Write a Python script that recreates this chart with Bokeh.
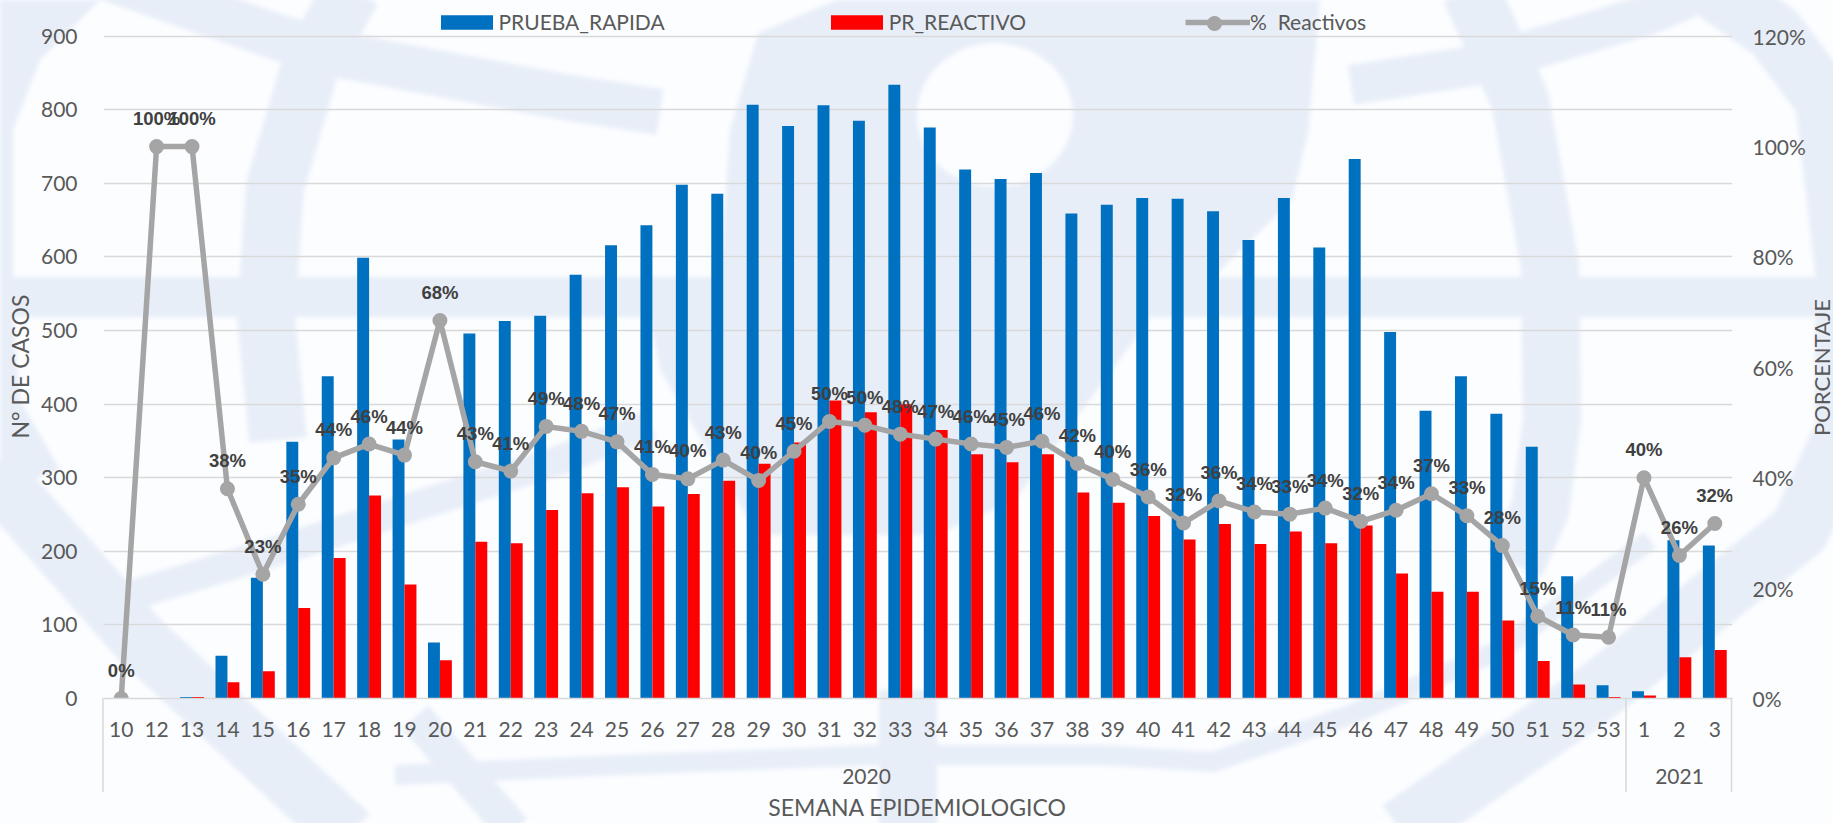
from bokeh.plotting import figure
from bokeh.embed import file_html
from bokeh.resources import INLINE
from bokeh.models import (ColumnDataSource, FactorRange, Range1d, LinearAxis, NumeralTickFormatter,
                          Legend, LegendItem, FixedTicker, PolyAnnotation, Label)
from bokeh.transform import dodge
from bokeh.core.properties import value
from urllib.parse import quote
import math

years = ["2020"] * 43 + ["2021"] * 3
weeks = ["10", "12", "13", "14", "15", "16", "17", "18", "19", "20", "21", "22", "23", "24", "25", "26",
         "27", "28", "29", "30", "31", "32", "33", "34", "35", "36", "37", "38", "39", "40", "41", "42",
         "43", "44", "45", "46", "47", "48", "49", "50", "51", "52", "53", "1", "2", "3"]
prueba_rapida = [0, 0, 2, 58, 164, 349, 438, 599, 352, 76, 496, 513, 520, 576, 616, 643,
                 698, 686, 807, 778, 806, 785, 834, 776, 719, 706, 714, 659, 671, 680, 679, 662,
                 623, 680, 613, 733, 498, 391, 438, 387, 342, 166, 18, 10, 215, 208]
pr_reactivo = [0, 0, 2, 22, 37, 123, 191, 276, 155, 52, 213, 211, 256, 279, 287, 261,
               278, 296, 319, 348, 405, 389, 400, 365, 332, 321, 332, 280, 266, 248, 216, 237,
               210, 227, 211, 235, 170, 145, 145, 106, 51, 19, 2, 4, 56, 66]
pct_reactivos = [0, 100, 100, 38.0, 22.5, 35.2, 43.6, 46.1, 44.1, 68.5, 42.9, 41.2, 49.3, 48.4, 46.5, 40.6,
                 39.8, 43.2, 39.5, 44.8, 50.2, 49.5, 47.9, 47.0, 46.1, 45.5, 46.6, 42.6, 39.7, 36.5, 31.8, 35.8,
                 33.8, 33.4, 34.5, 32.1, 34.1, 37.1, 33.1, 27.7, 14.9, 11.5, 11.1, 40.0, 25.9, 31.7]
pct_labels = ["0%", "100%", "100%", "38%", "23%", "35%", "44%", "46%", "44%", "68%", "43%", "41%", "49%", "48%", "47%", "41%",
              "40%", "43%", "40%", "45%", "50%", "50%", "48%", "47%", "46%", "45%", "46%", "42%", "40%", "36%", "32%", "36%",
              "34%", "33%", "34%", "32%", "34%", "37%", "33%", "28%", "15%", "11%", "11%", "40%", "26%", "32%"]

BLUE, RED, GREY = "#0070C0", "#FF0000", "#A5A5A5"
BG, WM = "#FBFDFF", "#E8EEF8"
TXT = "#595959"
FONT = "Lato"


# ---- faint emblem behind the chart (page background of the figure), in page pixels ----
def pts_str(pts):
    return " ".join(f"{a:.0f},{b:.0f}" for a, b in pts)


def wm_poly(pts, color=WM):
    return f"<polygon points='{pts_str(pts)}' fill='{color}'/>"


def wm_band(pts, w):
    return f"<polyline points='{pts_str(pts)}' fill='none' stroke='{WM}' stroke-width='{w}' stroke-linejoin='round'/>"


parts = [
    wm_poly([(0, 277), (1833, 277), (1833, 317), (0, 317)]),
    wm_poly([(0, 0), (100, 0), (40, 60), (13, 130), (13, 317), (20, 400), (60, 470), (0, 490)]),
    wm_band([(-10, 470), (140, 640), (350, 835)], 58),
    wm_band([(352, -10), (310, 67), (275, 187), (266, 317), (278, 440)], 58),
    wm_band([(100, -25), (280, 38), (340, 55), (570, 98), (660, 112)], 46),
    wm_band([(100, 605), (280, 550), (435, 500), (560, 460), (650, 425)], 30),
    wm_band([(415, 717), (514, 830)], 35),
    wm_band([(395, 775), (620, 765), (877, 755), (1100, 755), (1213, 762), (1350, 715), (1500, 650), (1650, 540)], 20),
    wm_band([(908, 690), (908, 830)], 58),
    wm_poly([(837, 0), (758, 33), (730, 130), (720, 277), (1213, 277), (1292, 200), (1308, 133), (1320, 0)]),
    wm_poly([(650, 317), (1150, 317), (1134, 340), (1015, 500), (936, 535), (758, 535), (660, 370)]),
    f"<ellipse cx='995' cy='115' rx='78' ry='72' fill='{BG}'/>",
    wm_band([(1470, -10), (1520, 100), (1550, 267), (1552, 420), (1540, 510), (1515, 565)], 58),
    wm_band([(1351, 85), (1480, 65), (1648, 15), (1707, -10)], 40),
    wm_band([(1700, -20), (1775, 33), (1825, 100), (1845, 270), (1845, 430), (1800, 530), (1600, 690), (1400, 830)], 60),
]
# bracket lines of the two-level category axis, below the axis
brackets = "".join(f"<line x1='{sx}' y1='698' x2='{sx}' y2='792' stroke='#D9D9D9' stroke-width='1.5'/>"
                   for sx in (103, 1626, 1731.5))
svg = ("<svg xmlns='http://www.w3.org/2000/svg' width='1833' height='823'>"
       f"<defs><filter id='b'><feGaussianBlur stdDeviation='2'/></filter></defs>"
       f"<rect width='1833' height='823' fill='{BG}'/><g filter='url(#b)'>" + "".join(parts) + "</g>" + brackets + "</svg>")

factors = list(zip(years, weeks))
src = ColumnDataSource(dict(x=factors, a=prueba_rapida, b=pr_reactivo,
                            p=[v / 100 for v in pct_reactivos], lab=pct_labels))

# the frame reaches up to the page top so that the legend can lie inside it, above the 900 line
FRAME_H, AXIS_H = 698, 662.3
p = figure(x_range=FactorRange(factors=factors, factor_padding=0, group_padding=0, range_padding=0),
           y_range=Range1d(0, 900 * FRAME_H / AXIS_H), frame_width=1629, frame_height=FRAME_H,
           min_border_left=103, min_border_right=101, min_border_top=0, min_border_bottom=125,
           output_backend="svg", toolbar_location=None, background_fill_alpha=0,
           border_fill_alpha=0, outline_line_color=None)
p.styles = {"background-image": 'url("data:image/svg+xml,' + quote(svg) + '")',
            "background-repeat": "no-repeat"}
p.extra_y_ranges["pct"] = Range1d(0, 1.2 * FRAME_H / AXIS_H)

# ---- bars, line, labels ----
bw = 0.337
r_a = p.vbar(x=dodge("x", -bw / 2, range=p.x_range), top="a", width=bw, source=src, fill_color=BLUE, line_color=None)
r_b = p.vbar(x=dodge("x", bw / 2, range=p.x_range), top="b", width=bw, source=src, fill_color=RED, line_color=None)
r_l = p.line(x="x", y="p", source=src, y_range_name="pct", line_color=GREY, line_width=5.5, line_join="round")
r_m = p.scatter(x="x", y="p", source=src, y_range_name="pct", size=15, fill_color=GREY, line_color=None)
p.text(x="x", y="p", text="lab", source=src, y_range_name="pct", y_offset=-28, text_align="center",
       text_baseline="middle", text_font=value("Liberation Sans"), text_font_style="bold",
       text_font_size="18.5px", text_color="#404040")

# ---- axes ----
p.xgrid.grid_line_color = None
p.ygrid.grid_line_color = "#D9D9D9"
p.ygrid.grid_line_width = 1.6
p.ygrid.ticker = FixedTicker(ticks=list(range(0, 901, 100)))

ay = p.yaxis[0]
ay.ticker = FixedTicker(ticks=list(range(0, 901, 100)))
ay.axis_line_color = None
ay.major_tick_line_color = None
ay.minor_tick_line_color = None
ay.major_label_standoff = 20
ay.major_label_text_font = FONT
ay.major_label_text_font_size = "21px"
ay.major_label_text_color = TXT

ar = LinearAxis(y_range_name="pct", ticker=FixedTicker(ticks=[0, .2, .4, .6, .8, 1, 1.2]),
                formatter=NumeralTickFormatter(format="0%"))
ar.axis_line_color = None
ar.major_tick_line_color = None
ar.minor_tick_line_color = None
ar.major_label_standoff = 14
ar.major_label_text_font = FONT
ar.major_label_text_font_size = "21px"
ar.major_label_text_color = TXT
p.add_layout(ar, "right")

ax = p.xaxis[0]
ax.axis_line_color = "#D9D9D9"
ax.axis_line_width = 1.6
ax.major_tick_line_color = None
ax.minor_tick_line_color = None
ax.separator_line_color = None
ax.major_label_orientation = "horizontal"
ax.major_label_standoff = 17
ax.major_label_text_font = FONT
ax.major_label_text_font_size = "21px"
ax.major_label_text_color = TXT
ax.group_text_color = None


# titles and year groups sit outside the frame: they are drawn in the side panels, in page pixels
def side_text(panel, text, x, y, size, angle=0.0):
    p.add_layout(Label(text=text, x=x, y=y, x_units="canvas", y_units="canvas", angle=angle,
                       text_align="center", text_baseline="middle", text_font=FONT,
                       text_font_size=size, text_color=TXT), panel)


side_text("left", "N° DE CASOS", 19, 366, "23px", math.pi / 2)
side_text("right", "PORCENTAJE", 1821, 367, "22px", math.pi / 2)
side_text("below", "2020", 866, 776, "21px")
side_text("below", "2021", 1679, 776, "21px")
side_text("below", "SEMANA EPIDEMIOLOGICO", 917, 806, "23px")

# ---- legend ----
leg = Legend(items=[LegendItem(label="PRUEBA_RAPIDA", renderers=[r_a]),
                    LegendItem(label="PR_REACTIVO", renderers=[r_b]),
                    LegendItem(label="%  Reactivos", renderers=[r_l, r_m])],
             orientation="horizontal", location=(330.5, FRAME_H - 34), glyph_width=65, glyph_height=18,
             spacing=159, padding=0, margin=0, label_standoff=0, border_line_color=None,
             background_fill_alpha=0, label_text_font=FONT, label_text_font_size="21px",
             label_text_color=TXT, label_height=20)
p.add_layout(leg, "center")

# the round marker of the line's legend entry (Bokeh draws it too small)
ring = [(1214 + 7.5 * math.cos(i * math.pi / 12), 23 + 7.5 * math.sin(i * math.pi / 12)) for i in range(24)]
p.add_layout(PolyAnnotation(xs=[a for a, _ in ring], ys=[b for _, b in ring], xs_units="canvas", ys_units="canvas",
                            level="overlay", fill_color=GREY, fill_alpha=1, line_color=None))

open("out.html", "w").write(file_html(p, INLINE))
